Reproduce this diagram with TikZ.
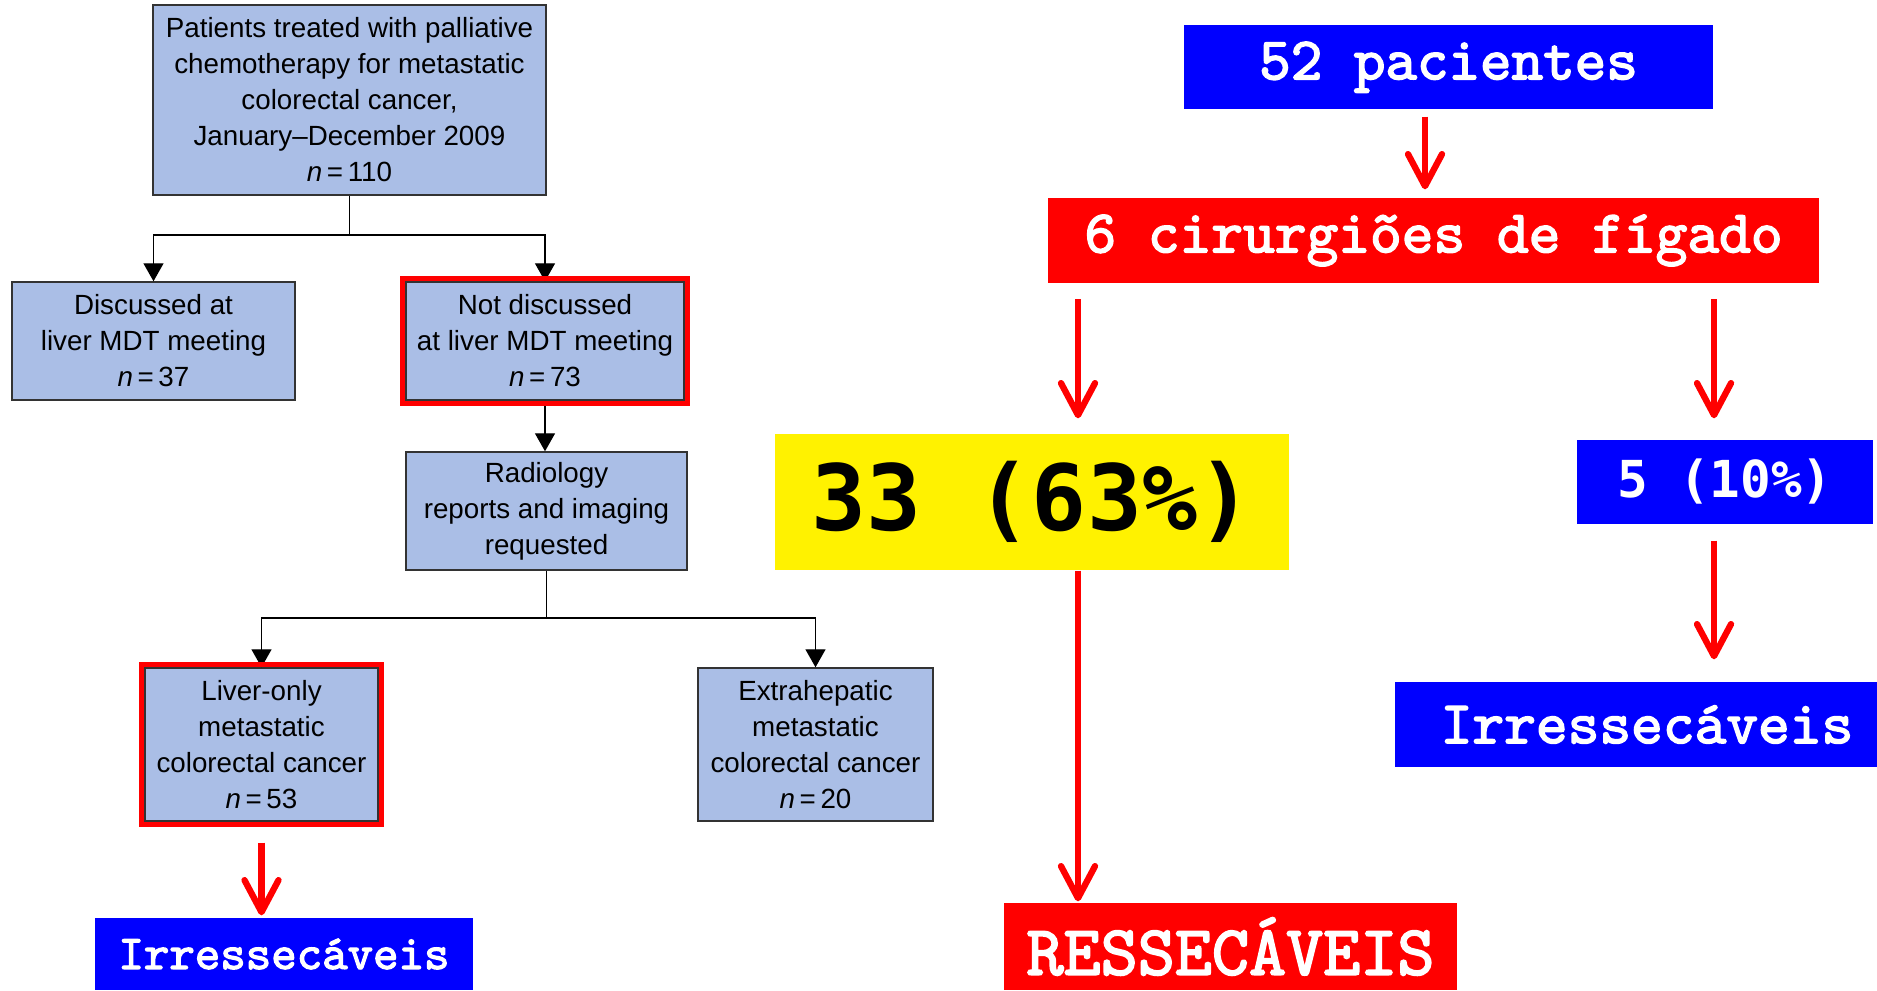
\documentclass[tikz,border=0pt]{standalone}
\usepackage{fontspec}
\setmainfont{Liberation Sans}
\newfontfamily\roundmono{DejaVu Sans Mono}
\newfontfamily\slabmono{lmmono10-regular}[Extension=.otf, FakeBold=2.5]
\usetikzlibrary{arrows.meta, positioning, fit}
\definecolor{boxblue}{RGB}{170,190,230}
\newcommand{\paperfont}{\fontsize{7.9}{10.24}\selectfont}

\begin{document}
\begin{tikzpicture}
\tikzset{
  flowbox/.style={draw=black!80, fill=boxblue, line width=0.4pt, align=center, inner sep=0pt, font=\paperfont},
  hilite/.style={draw=red, line width=1.4pt, inner sep=0.25mm},
  conn/.style={line width=0.4pt, -{Triangle[length=1.8mm,width=2mm]}},
  redarrow/.style={red, line width=1.8pt, -{Straight Barb[length=3.2mm,width=3.4mm,round]}},
  slide/.style={inner sep=0pt, text=white}
}

\useasboundingbox (0,0) rectangle (18.77,9.90);
\clip (0,0) rectangle (18.77,9.90);

\coordinate (P) at (3.495,8.90);
\coordinate (D) at (1.535,6.49);
\coordinate (N) at (5.45,6.49);
\coordinate (R) at (5.465,4.79);
\coordinate (L) at (2.615,2.455);
\coordinate (X) at (8.155,2.455);
\coordinate (J1) at (3.495,7.55);
\coordinate (J2) at (5.465,3.72);

\coordinate (colT) at (14.25,0);
\coordinate (colL) at (10.78,0);
\coordinate (colR) at (17.14,0);

% flow chart from the paper
\draw[line width=0.4pt] (P) ++(0,-0.95) -- (J1);
\draw[line width=0.4pt] (R) ++(0,-0.59) -- (J2);

\node[flowbox, minimum width=3.93cm, minimum height=1.90cm] (pat) at (P)
  {Patients treated with palliative\\chemotherapy for metastatic\\colorectal cancer,\\January--December 2009\\\textit{n}\,=\,110};
\node[flowbox, minimum width=2.83cm, minimum height=1.18cm] (disc) at (D)
  {Discussed at\\liver MDT meeting\\\textit{n}\,=\,37};
\node[flowbox, minimum width=2.78cm, minimum height=1.18cm] (notdisc) at (N)
  {Not discussed\\at liver MDT meeting\\\textit{n}\,=\,73};
\node[flowbox, minimum width=2.81cm, minimum height=1.18cm] (radio) at (R)
  {Radiology\\reports and imaging\\requested};
\node[flowbox, minimum width=2.33cm, minimum height=1.53cm] (liver) at (L)
  {Liver-only\\metastatic\\colorectal cancer\\\textit{n}\,=\,53};
\node[flowbox, minimum width=2.35cm, minimum height=1.53cm] (extra) at (X)
  {Extrahepatic\\metastatic\\colorectal cancer\\\textit{n}\,=\,20};

\draw[conn] (J1) -| (disc.north);
\draw[conn] (J1) -| (notdisc.north);
\draw[conn] (notdisc.south) -- (notdisc.south |- radio.north);
\draw[conn] (J2) -| (liver.north);
\draw[conn] (J2) -| (extra.north);

\node[hilite, fit=(notdisc)] (notdiscframe) {};
\node[hilite, fit=(liver)] (liverframe) {};

% slide boxes
\node[slide, fill=blue, minimum width=3.78cm, minimum height=0.72cm, font=\slabmono\fontsize{13.8}{16}\selectfont] (irrL) at (2.84,0.36) {Irressecáveis};
\node[slide, fill=blue, minimum width=5.29cm, minimum height=0.845cm, font=\slabmono\fontsize{17.1}{20}\selectfont] (pac) at (14.485,9.2275) {52 pacientes};
\node[slide, fill=red, minimum width=7.71cm, minimum height=0.85cm, font=\slabmono\fontsize{17.2}{20}\selectfont] (cir) at (14.335,7.495) {6 cirurgiões de fígado};
\node[slide, fill=yellow, text=black, minimum width=5.14cm, minimum height=1.36cm, font=\roundmono\bfseries\fontsize{26}{30}\selectfont] (res33) at (10.32,4.88) {33 (63\%)};
\node[slide, fill=blue, minimum width=2.96cm, minimum height=0.84cm, font=\roundmono\bfseries\fontsize{14.5}{17}\selectfont] (res5) at (17.25,5.08) {5 (10\%)};
\node[slide, fill=blue, minimum width=5.04cm, minimum height=0.85cm, font=\slabmono\fontsize{17.2}{20}\selectfont] (irrR) at (16.47,2.655) {Irressecáveis};
\node[slide, fill=red, minimum width=4.53cm, minimum height=0.87cm, font=\slabmono\fontsize{20.1}{23}\selectfont] (ress) at (12.305,0.435) {RESSECÁVEIS};

\begin{scope}[redarrow]
\draw[shorten <=0.21cm, shorten >=0.02cm] (liver.south) -- (liver.south |- irrL.north);
\draw[shorten <=0.065cm, shorten >=0.08cm] (pac.south -| colT) -- (cir.north -| colT);
\draw[shorten <=0.155cm, shorten >=0.15cm] (cir.south -| colL) -- (res33.north -| colL);
\draw[shorten <=0.155cm, shorten >=0.21cm] (cir.south -| colR) -- (res5.north -| colR);
\draw[shorten <=0.16cm, shorten >=0.22cm] (res5.south -| colR) -- (irrR.north -| colR);
\draw[shorten >=0.01cm] (res33.south -| colL) -- (ress.north -| colL);
\end{scope}
\end{tikzpicture}
\end{document}
